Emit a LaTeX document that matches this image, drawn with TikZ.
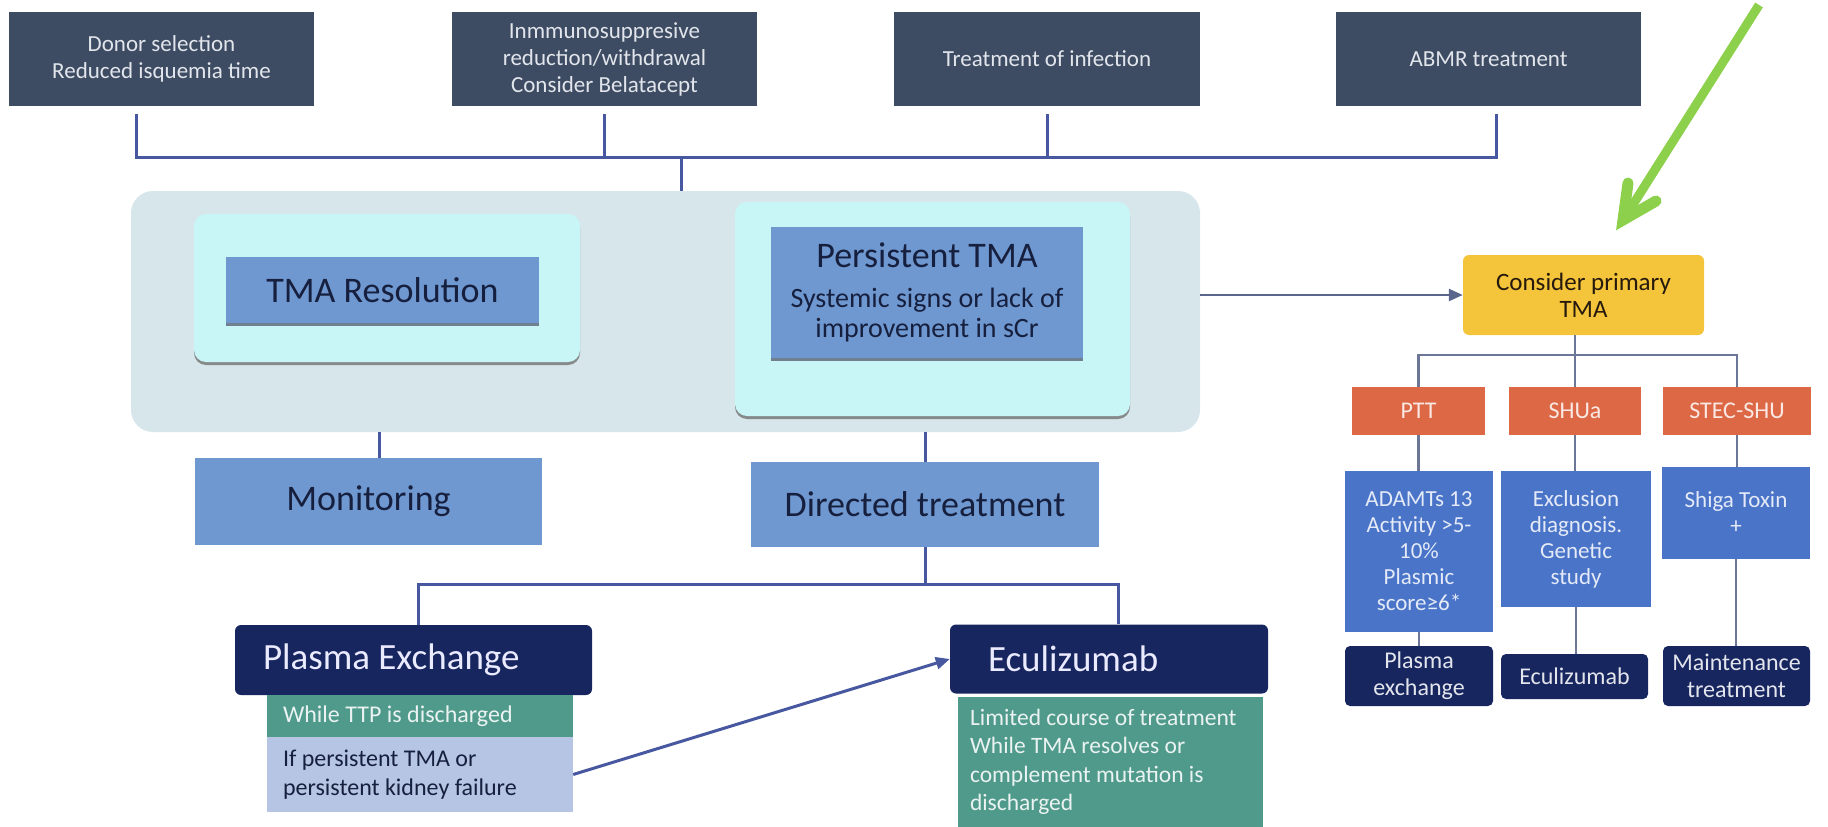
\documentclass[tikz,border=0pt]{standalone}
\usepackage{fontspec}
\setmainfont{Carlito}
\usetikzlibrary{arrows.meta,shadows}

\definecolor{topgrey}{RGB}{62,76,99}
\definecolor{toptext}{RGB}{226,230,236}
\definecolor{linkblue}{RGB}{72,88,160}
\definecolor{thinlink}{RGB}{108,118,150}
\definecolor{panelgrey}{RGB}{214,230,234}
\definecolor{palecyan}{RGB}{200,246,246}
\definecolor{midblue}{RGB}{111,151,208}
\definecolor{darktext}{RGB}{22,32,62}
\definecolor{navybox}{RGB}{24,38,96}
\definecolor{tealbox}{RGB}{80,154,140}
\definecolor{lavbox}{RGB}{182,197,228}
\definecolor{goldbox}{RGB}{244,196,58}
\definecolor{coralbox}{RGB}{221,104,70}
\definecolor{brightblue}{RGB}{74,116,200}
\definecolor{leaf}{RGB}{140,208,75}
\definecolor{greyarrow}{RGB}{90,102,140}

\tikzset{
  box/.style={inner sep=0pt, align=center},
  topbox/.style={box, fill=topgrey, text=toptext, minimum width=305pt, minimum height=94pt, font=\fontsize{23}{27}\selectfont},
  link/.style={draw=linkblue, line width=3pt},
  tlink/.style={draw=thinlink, line width=2.5pt},
  pointer/.style={line width=3pt, -{Triangle[length=14pt,width=12pt]}},
  panelbox/.style={box, fill=panelgrey, rounded corners=22pt},
  cyanbox/.style={box, fill=palecyan, rounded corners=12pt, drop shadow={shadow xshift=0pt, shadow yshift=-3pt, fill=black!55, opacity=0.8}},
  midbox/.style={box, fill=midblue, text=darktext, font=\fontsize{36}{40}\selectfont},
  innerbox/.style={midbox, drop shadow={shadow xshift=0pt, shadow yshift=-3pt, fill=darktext!70, opacity=0.8}},
  titlebox/.style={box, fill=navybox, text=white!92!blue, rounded corners=6pt, align=flush left, font=\fontsize{37}{40}\selectfont},
  notebox/.style={box, align=flush left, font=\fontsize{24}{29}\selectfont},
  goldnode/.style={box, fill=goldbox, text=black!80!brown, rounded corners=6pt, font=\fontsize{25}{27}\selectfont},
  coralnode/.style={box, fill=coralbox, text=white!85!coralbox, minimum height=48pt, font=\fontsize{24}{27}\selectfont},
  bluenode/.style={box, fill=brightblue, text=white!85!brightblue, font=\fontsize{23}{26}\selectfont},
  navynode/.style={box, fill=navybox, text=white!88!navybox, rounded corners=5pt, font=\fontsize{24}{27}\selectfont},
  greenline/.style={draw=leaf, line width=9pt},
}

\begin{document}
\begin{tikzpicture}[x=1pt,y=-1pt]
\useasboundingbox (0,0) rectangle (1828,827);

% measures taken first
\node[topbox] (donor) at (161.5,59) {Donor selection\\Reduced isquemia time};
\node[topbox] (immuno) at (604.5,59) {Inmmunosuppresive\\reduction/withdrawal\\Consider Belatacept};
\node[topbox, minimum width=306pt] (infect) at (1047,59) {Treatment of infection};
\node[topbox] (abmr) at (1488.5,59) {ABMR treatment};

% panel with the two outcomes
\node[panelbox, minimum width=1069pt, minimum height=241pt] (panel) at (665.5,311.5) {};
\node[cyanbox, minimum width=386pt, minimum height=148pt] (resframe) at (387,288) {};
\node[innerbox, minimum width=313pt, minimum height=66pt] (res) at (382.5,290) {TMA Resolution};
\node[cyanbox, minimum width=395pt, minimum height=214pt] (persframe) at (932.5,309) {};
\node[innerbox, minimum width=312pt, minimum height=131pt, font=\fontsize{28}{30}\selectfont] (pers) at (927,292.5)
  {{\fontsize{36}{40}\selectfont Persistent TMA}\\[10pt]Systemic signs or lack of\\improvement in sCr};

\coordinate (busR) at (1496,157);
\draw[link] ([xshift=-25.5pt,yshift=-8pt]donor.south) |- (busR) -- ([xshift=7.5pt,yshift=-8pt]abmr.south);
\draw[link] ([yshift=-8pt]immuno.south) -- (immuno.south |- busR);
\draw[link] ([yshift=-8pt]infect.south) -- (infect.south |- busR);
\draw[link] ([xshift=15.5pt]panel.north) -- ([xshift=15.5pt]panel.north |- busR);

\node[midbox, minimum width=347pt, minimum height=87pt] (mon) at (368.5,501.5) {Monitoring};
\node[midbox, minimum width=348pt, minimum height=85pt] (dir) at (925,504.5) {Directed treatment};
\draw[link] ([xshift=10.5pt]mon.north) -- ([xshift=10.5pt]mon.north |- panel.south);
\draw[link] (dir.north) -- (dir.north |- panel.south);

% treatments
\node[titlebox, minimum width=357pt, minimum height=70pt, inner xsep=28pt, text width=301pt] (pex) at (413.5,660) {Plasma Exchange};
\node[notebox, fill=tealbox, text=white!88!tealbox, minimum width=306pt, minimum height=42pt, inner xsep=16pt, text width=274pt] (ttp) at (420,716) {While TTP is discharged};
\node[notebox, fill=lavbox, text=darktext, minimum width=306pt, minimum height=75pt, inner xsep=16pt, text width=274pt] (kidney) at (420,774.5) {If persistent TMA or\\persistent kidney failure};
\node[titlebox, minimum width=318pt, minimum height=69pt, inner xsep=38pt, text width=242pt] (ecu) at (1109,659) {Eculizumab};
\node[notebox, fill=tealbox, text=white!88!tealbox, minimum width=305pt, minimum height=130pt, inner xsep=12pt, text width=281pt, font=\fontsize{23.5}{28.5}\selectfont] (ecunote) at (1110.5,762)
  {Limited course of treatment\\While TMA resolves or\\complement mutation is\\discharged};

\coordinate (split) at (925,584);
\draw[link] (dir.south) -- (split);
\draw[link] ([xshift=4.5pt]pex.north) |- ([xshift=9pt]ecu.north |- split) -- ([xshift=9pt]ecu.north);
\draw[pointer, draw=linkblue, fill=linkblue] (kidney.east) -- (ecu.west);

% primary TMA branch
\node[goldnode, minimum width=241pt, minimum height=80pt] (cons) at (1583.5,295) {Consider primary\\TMA};
\draw[pointer, line width=2.5pt, draw=greyarrow, fill=greyarrow] (panel.east |- cons.west) -- (cons.west);

\node[coralnode, minimum width=133pt] (ptt) at (1418.5,411) {PTT};
\node[coralnode, minimum width=132pt] (shua) at (1575,411) {SHUa};
\node[coralnode, minimum width=148pt] (stec) at (1737,411) {STEC-SHU};

\node[bluenode, minimum width=148pt, minimum height=161pt] (adam) at (1419,551.5) {ADAMTs 13\\Activity >5-\\10\%\\Plasmic\\score≥6*};
\node[bluenode, minimum width=150pt, minimum height=136pt] (excl) at (1576,539) {Exclusion\\diagnosis.\\Genetic\\study};
\node[bluenode, minimum width=148pt, minimum height=92pt] (shiga) at (1736,513) {Shiga Toxin\\+};

\node[navynode, minimum width=148pt, minimum height=60pt] (pex2) at (1419,676) {Plasma\\exchange};
\node[navynode, minimum width=147pt, minimum height=45pt] (ecu2) at (1574.5,676.5) {Eculizumab};
\node[navynode, minimum width=147pt, minimum height=60pt] (maint) at (1736.5,676) {Maintenance\\treatment};

\coordinate (tree) at (1575,355);
\draw[tlink] (cons.south -| shua.north) -- (shua.north);
\draw[tlink] (ptt.north) |- (stec.north |- tree) -- (stec.north);
\draw[tlink] (ptt.south) -- (ptt.south |- adam.north);
\draw[tlink] (shua.south) -- (shua.south |- excl.north);
\draw[tlink] (stec.south) -- (stec.south |- shiga.north);
\draw[tlink] (adam.south) -- (adam.south |- pex2.north);
\draw[tlink] (excl.south) -- (excl.south |- ecu2.north);
\draw[tlink] (shiga.south) -- (shiga.south |- maint.north);

% green pointer
\coordinate (gtail) at (1759,5);
\coordinate (gtip) at (1623,220);
\draw[greenline] (gtail) -- ([shift={(4,-6)}]gtip);
\draw[greenline, line width=11pt, line cap=round, line join=miter] (1628,183) -- (gtip) -- (1656,201);
\end{tikzpicture}
\end{document}
